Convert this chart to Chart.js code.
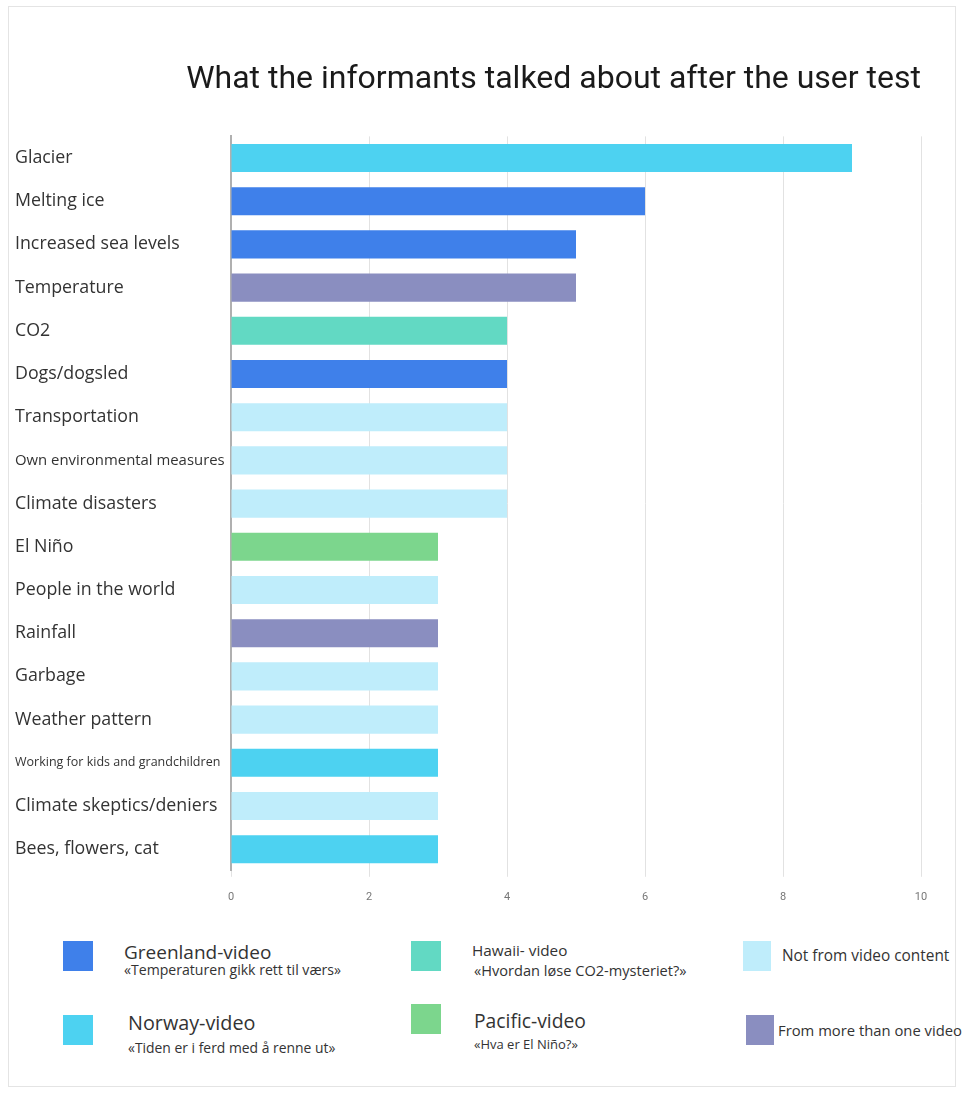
<!DOCTYPE html>
<html>
<head>
<meta charset="utf-8">
<script src="https://cdn.jsdelivr.net/npm/chart.js@4.4.1/dist/chart.umd.min.js"></script>
<style>
	body { margin: 0; background: #fff; font-family: "Open Sans", Roboto, sans-serif; }
	#frame { position: absolute; left: 8px; top: 6px; width: 946px; height: 1079px; border: 1px solid #e4e4e4; }
	#wrapper { position: absolute; left: 0; top: 0; width: 963px; height: 928px; }
	.sw { position: absolute; }
	.lt { position: absolute; color: #333; white-space: nowrap; line-height: 1; transform: translateY(-50%); }
</style>
</head>
<body>
<div id="frame"></div>
<div id="wrapper"><canvas id="topics" width="963" height="928"></canvas></div>
<div id="legend"></div>
<script>
// what the informants talked about, and which video it came from
const topics = [
	"Glacier", "Melting ice", "Increased sea levels", "Temperature", "CO2",
	"Dogs/dogsled", "Transportation", "Own environmental measures", "Climate disasters",
	"El Niño", "People in the world", "Rainfall", "Garbage", "Weather pattern",
	"Working for kids and grandchildren", "Climate skeptics/deniers", "Bees, flowers, cat"
];
const counts = [9, 6, 5, 5, 4, 4, 4, 4, 4, 3, 3, 3, 3, 3, 3, 3, 3];
const sources = [
	"norway", "greenland", "greenland", "multi", "hawaii",
	"greenland", "none", "none", "none",
	"pacific", "none", "multi", "none", "none",
	"norway", "none", "norway"
];
const xTicks = [0, 2, 4, 6, 8, 10];

const colors = {
	greenland: "#3f80ea",
	norway: "#4dd2f1",
	hawaii: "#62d9c3",
	pacific: "#7cd68d",
	none: "#bfedfb",
	multi: "#8a8ec0",
};

function labelSize(i) {
	let t = topics[i];
	if (t == "Own environmental measures") return 14.9;
	if (t == "Working for kids and grandchildren") return 12.5;
	return 17.8;
}

let obj = {
	type: "bar",
	data: {
		labels: topics,
		datasets: [
			{
				data: counts,
				backgroundColor: sources.map((s) => colors[s]),
				barPercentage: 0.65,
				categoryPercentage: 1,
			},
		],
	},
	options: {
		indexAxis: "y",
		responsive: false,
		animation: false,
		layout: { padding: { top: 55, right: 42, left: 15, bottom: 10 } },
		plugins: {
			legend: { display: false },
			tooltip: { enabled: false },
			title: {
				display: true,
				text: "What the informants talked about after the user test",
				align: "end",
				color: "#1a1a1a",
				font: { family: "Roboto", size: 32, weight: "normal" },
				padding: { top: 6, bottom: 37 },
			},
		},
		scales: {
			x: {
				min: 0,
				max: 10,
				afterBuildTicks: (s) => { s.ticks = xTicks.map((v) => ({ value: v })); },
				grid: { color: "#e2e2e2", tickLength: 6 },
				border: { display: false },
				ticks: { color: "#777", font: { family: "Roboto", size: 11 }, padding: 14 },
			},
			y: {
				afterFit: (s) => { s.width = 216; },
				grid: { display: false },
				border: { color: "#b0b0b0", width: 2 },
				ticks: {
					crossAlign: "far",
					color: "#333",
					font: (ctx) => ({ family: "Open Sans", size: labelSize(ctx.index) }),
				},
			},
		},
	},
};
new Chart("topics", obj);

// legend below the chart, drawn as plain html (y values are text centres)
const legendItems = [
	{ c: "greenland", x: 63, y: 941, w: 30, tx: 124, ty: 952, title: "Greenland-video", ts: 19, sub: "«Temperaturen gikk rett til værs»", ss: 14.1, sx: 124, sy: 970 },
	{ c: "norway", x: 63, y: 1015, w: 30, tx: 128, ty: 1023, title: "Norway-video", ts: 19.8, sub: "«Tiden er i ferd med å renne ut»", ss: 13.9, sx: 128, sy: 1048 },
	{ c: "hawaii", x: 411, y: 941, w: 30, tx: 472, ty: 951, title: "Hawaii- video", ts: 15.3, sub: "«Hvordan løse CO2-mysteriet?»", ss: 14.6, sx: 474, sy: 970 },
	{ c: "pacific", x: 411, y: 1004, w: 30, tx: 474, ty: 1021, title: "Pacific-video", ts: 19.3, sub: "«Hva er El Niño?»", ss: 13, sx: 474, sy: 1044 },
	{ c: "none", x: 743, y: 941, w: 28, tx: 782, ty: 956, title: "Not from video content", ts: 15.4 },
	{ c: "multi", x: 746, y: 1015, w: 28, tx: 778, ty: 1030, title: "From more than one video", ts: 14.8 },
];
let lg = document.getElementById("legend");
for (const it of legendItems) {
	let sw = document.createElement("div");
	sw.className = "sw";
	sw.style.left = it.x + "px";
	sw.style.top = it.y + "px";
	sw.style.width = it.w + "px";
	sw.style.height = "30px";
	sw.style.background = colors[it.c];
	lg.appendChild(sw);
	let t = document.createElement("div");
	t.className = "lt";
	t.style.left = it.tx + "px";
	t.style.top = it.ty + "px";
	t.style.fontSize = it.ts + "px";
	t.textContent = it.title;
	lg.appendChild(t);
	if (it.sub) {
		let s = document.createElement("div");
		s.className = "lt";
		s.style.left = it.sx + "px";
		s.style.top = it.sy + "px";
		s.style.fontSize = it.ss + "px";
		s.textContent = it.sub;
		lg.appendChild(s);
	}
}
</script>
</body>
</html>
